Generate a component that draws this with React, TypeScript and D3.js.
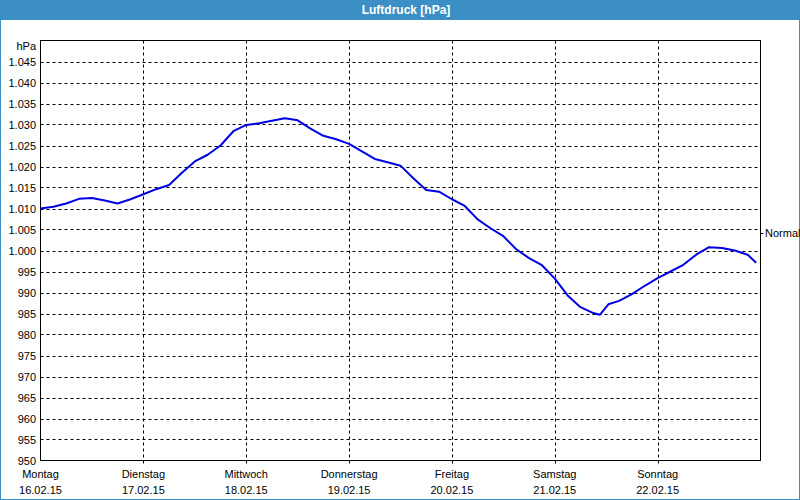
import * as d3 from 'd3';

// Hours since Monday 00:00 and pressure (hPa)
const hours = [0, 3, 6, 9, 12, 15, 18, 21, 24, 27, 30, 33, 36, 39, 42, 45, 48, 51, 54, 57, 60, 63, 66, 69, 72, 75, 78, 81, 84, 87, 90, 93, 96, 99, 102, 105, 108, 111, 114, 117, 120, 123, 126, 129, 130.5, 132.5, 135, 138, 141, 144, 147, 150, 153, 156, 159, 162, 165, 167];
const pressure = [1010.0, 1010.4, 1011.2, 1012.3, 1012.5, 1011.9, 1011.2, 1012.2, 1013.4, 1014.6, 1015.6, 1018.5, 1021.2, 1022.8, 1025.0, 1028.4, 1029.9, 1030.3, 1030.9, 1031.5, 1031.0, 1029.0, 1027.3, 1026.5, 1025.4, 1023.6, 1021.8, 1021.0, 1020.2, 1017.2, 1014.4, 1014.0, 1012.2, 1010.6, 1007.4, 1005.3, 1003.4, 1000.3, 998.2, 996.5, 993.3, 989.3, 986.5, 985.1, 984.7, 987.2, 988.0, 989.6, 991.6, 993.4, 995.0, 996.6, 999.0, 1000.8, 1000.6, 1000.0, 999.0, 997.1];

const dayNames = ['Montag', 'Dienstag', 'Mittwoch', 'Donnerstag', 'Freitag', 'Samstag', 'Sonntag'];
const dayDates = ['16.02.15', '17.02.15', '18.02.15', '19.02.15', '20.02.15', '21.02.15', '22.02.15'];
const yTicks = d3.range(950, 1050, 5);
const normalValue = 1004.2;

const W = 800;
const H = 500;
const plot = { left: 40.5, right: 760.5, top: 40.5, bottom: 460.5 };
const font = '"Liberation Sans", Arial, sans-serif';

export default function App() {
  const x = d3.scaleLinear().domain([0, 168]).range([plot.left, plot.right]);
  const y = d3.scaleLinear().domain([950, 1050]).range([plot.bottom, plot.top]);

  const line = d3.line<number>()
    .x((_, i) => x(hours[i]))
    .y((d) => y(d));

  const fmt = (v: number) => (v >= 1000 ? `1.${String(v - 1000).padStart(3, '0')}` : String(v));

  return (
    <div style={{ position: 'fixed', left: 0, top: 0 }}>
      <svg width={W} height={H} style={{ display: 'block' }}>
        <rect x={0} y={0} width={W} height={H} fill="#ffffff" />
        <rect x={0} y={0} width={W} height={20} fill="#3c8fc4" />
        <rect x={0.5} y={0} width={W - 1} height={H - 0.5} fill="none" stroke="#3c8fc4" />
        <text x={406} y={14} textAnchor="middle" fill="#ffffff" fontFamily={font} fontSize={12} fontWeight="bold">
          Luftdruck [hPa]
        </text>

        {/* horizontal grid */}
        {yTicks.slice(1).map((t) => (
          <line key={t} x1={plot.left} x2={plot.right} y1={Math.round(y(t)) + 0.5} y2={Math.round(y(t)) + 0.5}
            stroke="#000" strokeDasharray="3,3" />
        ))}
        {/* vertical grid */}
        {dayNames.map((_, i) => i > 0 && (
          <line key={i} x1={Math.round(x(i * 24)) + 0.5} x2={Math.round(x(i * 24)) + 0.5} y1={plot.top} y2={plot.bottom + 3}
            stroke="#000" strokeDasharray="3,3" />
        ))}

        <rect x={plot.left} y={plot.top} width={plot.right - plot.left} height={plot.bottom - plot.top}
          fill="none" stroke="#000" />

        {/* y labels */}
        {yTicks.map((t) => (
          <text key={t} x={36} y={y(t) + 4} textAnchor="end" fontFamily={font} fontSize={11} fill="#000">
            {fmt(t)}
          </text>
        ))}
        <text x={36} y={50} textAnchor="end" fontFamily={font} fontSize={11} fill="#000">hPa</text>

        {/* x labels */}
        {dayNames.map((d, i) => (
          <g key={d}>
            <text x={x(i * 24)} y={478} textAnchor="middle" fontFamily={font} fontSize={11} fill="#000">{d}</text>
            <text x={x(i * 24)} y={494} textAnchor="middle" fontFamily={font} fontSize={11} fill="#000">{dayDates[i]}</text>
          </g>
        ))}

        {/* normal marker */}
        <line x1={plot.right} x2={plot.right + 3} y1={Math.round(y(normalValue)) + 0.5} y2={Math.round(y(normalValue)) + 0.5} stroke="#000" />
        <text x={765} y={y(normalValue) + 4} fontFamily={font} fontSize={11} fill="#000">Normal</text>

        <path d={line(pressure) ?? ''} fill="none" stroke="#0000e6" strokeWidth={2} strokeLinejoin="round" />
      </svg>
    </div>
  );
}
